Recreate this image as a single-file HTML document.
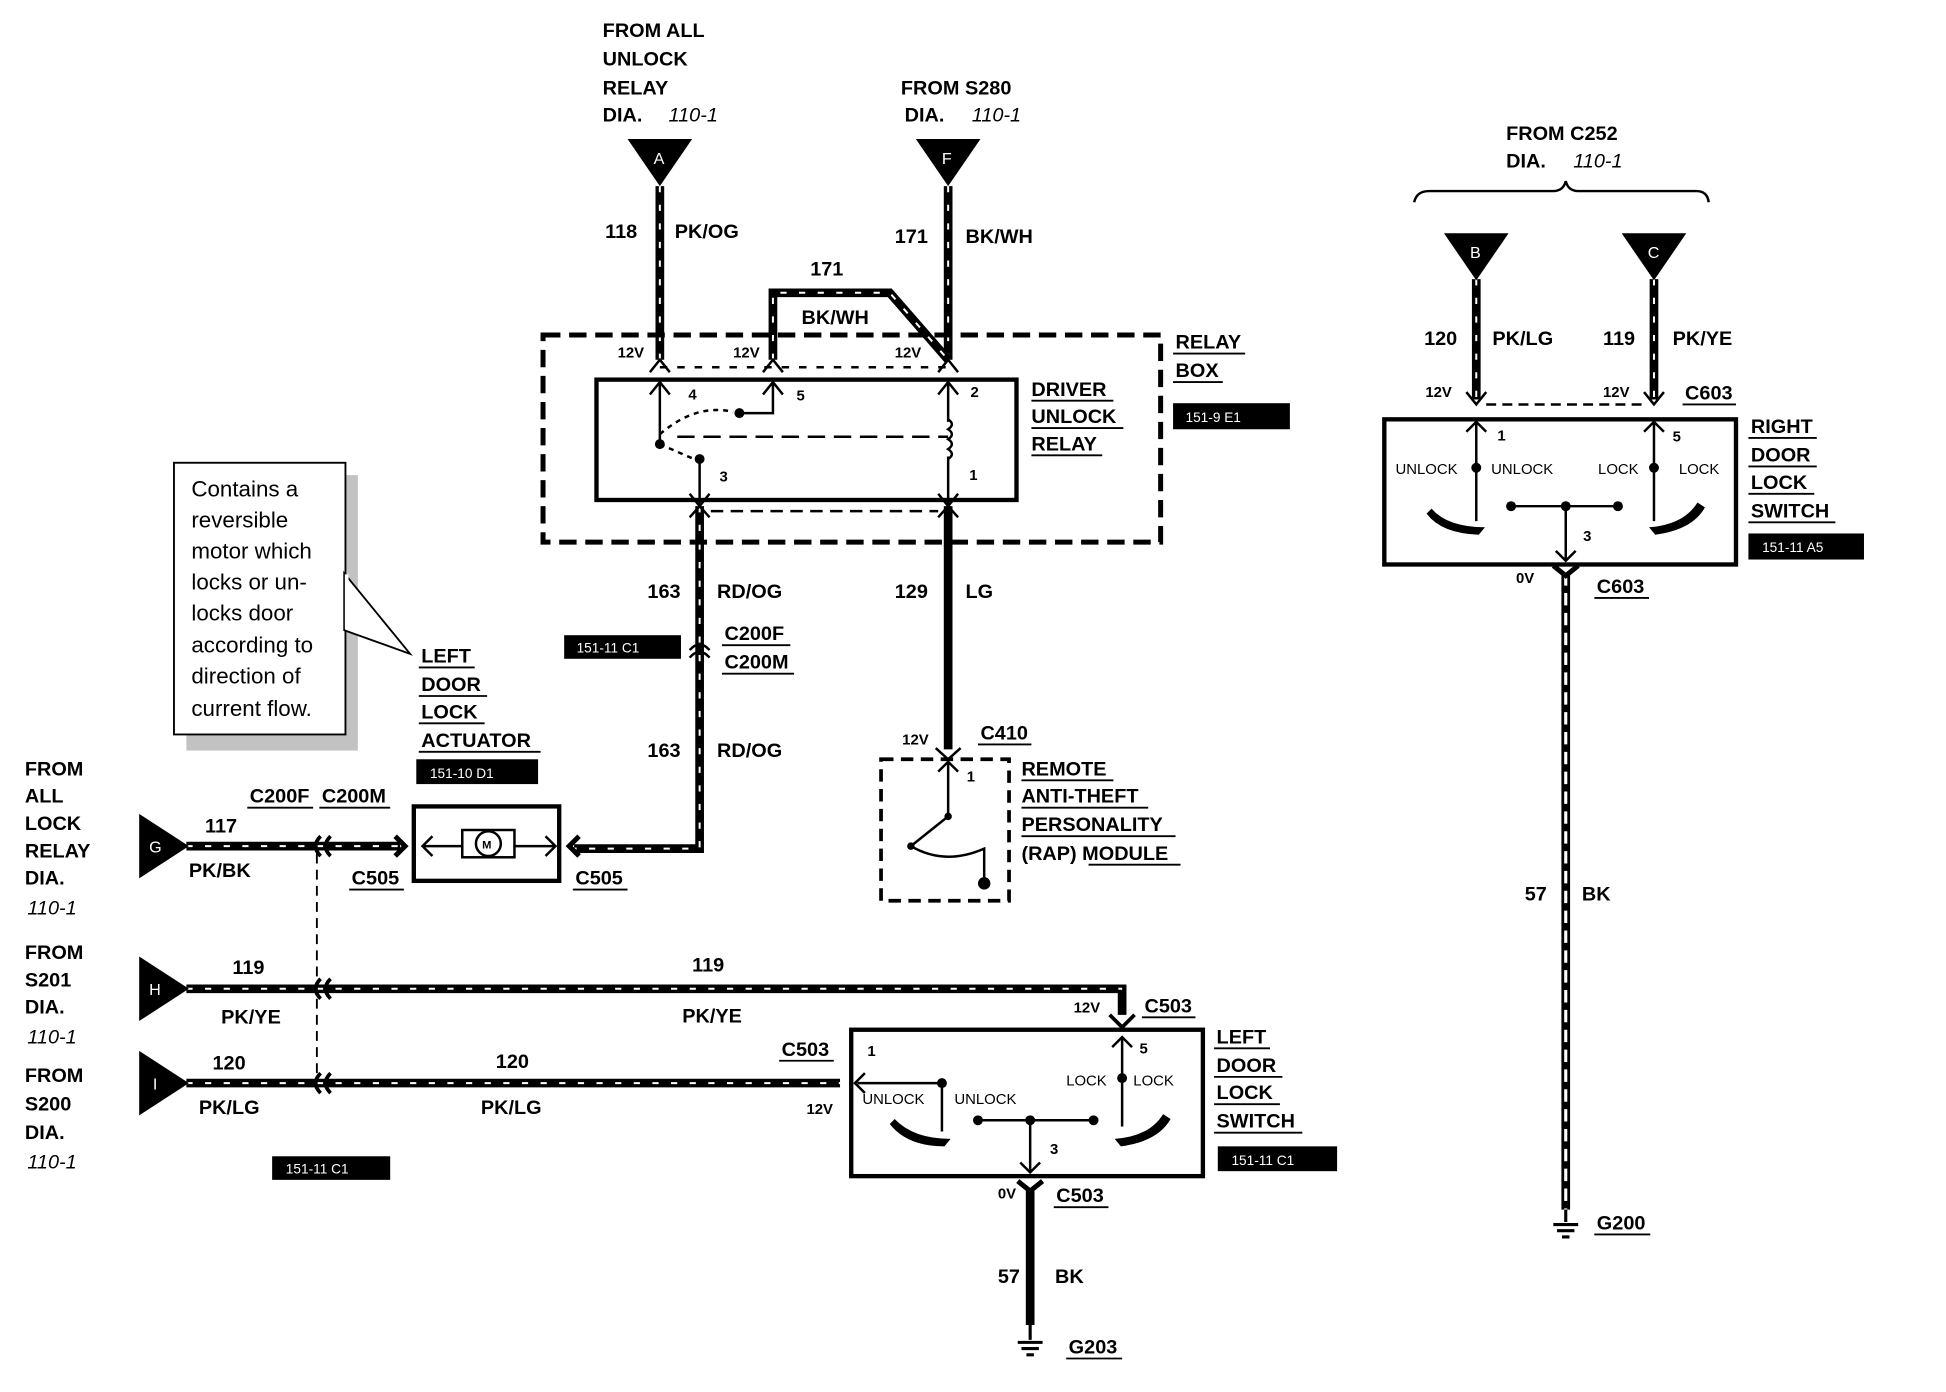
<!DOCTYPE html>
<html><head><meta charset="utf-8"><style>
html,body{margin:0;padding:0;background:#fff;}
svg{display:block}
text{font-family:"Liberation Sans",Arial,sans-serif;font-weight:bold;font-size:16px;fill:#000}
.s{font-size:12px}
.n{font-weight:normal;font-size:18px}
.i{font-style:italic;font-weight:normal}
.wh{fill:#fff;font-size:11px;font-weight:normal}
.w{stroke:#000;stroke-width:7;fill:none}
.d{stroke:#fff;stroke-width:1.6;stroke-dasharray:5 10;fill:none}
.t{stroke:#000;stroke-width:2;fill:none}
.b{stroke:#000;stroke-width:3.5;fill:none}
.u{stroke:#000;stroke-width:1.5}
</style></head><body>
<svg width="1946" height="1392" viewBox="0 0 1566 1122" preserveAspectRatio="none" xmlns="http://www.w3.org/2000/svg">
<g>
<path class="w" d="M531 150V290"/><path class="d" d="M531 150V290"/>
<path class="w" d="M763 150V290"/><path class="d" d="M763 150V290"/>
<path class="w" d="M622 290V236H716L763 290"/><path class="d" d="M622 290V236H716L763 290"/>
<path class="w" d="M563 408V684H462"/><path class="d" d="M563 408V684H462"/>
<path class="w" d="M763 408V604"/>
<path class="w" d="M150 682H322"/><path class="d" d="M150 682H322"/>
<path class="w" d="M150 797H903V818"/><path class="d" d="M150 797H903"/>
<path class="w" d="M150 873H676"/><path class="d" d="M150 873H676"/>
<path class="w" d="M829 958V1068"/>
<path class="w" d="M1188 225V322"/><path class="d" d="M1188 225V322"/>
<path class="w" d="M1331 225V322"/><path class="d" d="M1331 225V322"/>
<path class="w" d="M1260 462V975"/><path class="d" d="M1260 462V975" style="stroke-width:2.5;stroke-dasharray:10 6"/>
</g>
<polygon points="505,112 557,112 531,150"/><text x="526" y="132" class="wh" style="font-size:13px">A</text>
<polygon points="737,112 789,112 763,150"/><text x="758" y="132" class="wh" style="font-size:13px">F</text>
<polygon points="1162,188 1214,188 1188,226"/><text x="1183" y="208" class="wh" style="font-size:13px">B</text>
<polygon points="1305,188 1357,188 1331,226"/><text x="1326" y="208" class="wh" style="font-size:13px">C</text>
<polygon points="112,656 112,708 152,682"/><text x="120" y="687" class="wh" style="font-size:13px">G</text>
<polygon points="112,771 112,823 152,797"/><text x="120" y="802" class="wh" style="font-size:13px">H</text>
<polygon points="112,847 112,899 152,873"/><text x="123" y="878" class="wh" style="font-size:13px">I</text>
<text x="485" y="30">FROM ALL</text><text x="485" y="53">UNLOCK</text><text x="485" y="76">RELAY</text>
<text x="485" y="98">DIA.</text><text x="538" y="98" class="i">110-1</text>
<text x="725" y="76">FROM S280</text><text x="728" y="98">DIA.</text><text x="782" y="98" class="i">110-1</text>
<text x="487" y="192">118</text><text x="543" y="192">PK/OG</text>
<text x="720" y="196">171</text><text x="777" y="196">BK/WH</text>
<text x="652" y="222">171</text><text x="645" y="261">BK/WH</text>
<rect x="437" y="270" width="497" height="167" fill="none" stroke="#000" stroke-width="4" stroke-dasharray="14 7"/>
<rect x="480" y="306" width="338" height="97" fill="none" stroke="#000" stroke-width="3.5"/>
<text x="497" y="288" class="s">12V</text><text x="590" y="288" class="s">12V</text><text x="720" y="288" class="s">12V</text>
<path class="t" d="M523 300L531 290L539 300M614 300L622 290L630 300M755 300L763 290L771 300"/>
<path class="t" d="M531 296H763" stroke-dasharray="6 8"/>
<path class="t" d="M523 318L531 308L539 318M531 308V358M614 318L622 308L630 318M622 308V333H595M755 318L763 308L771 318M763 308V340M555 398L563 408L571 398M563 370V408M755 398L763 408L771 398M763 368V408"/>
<path class="t" d="M531 358L563 372M531 350Q560 325 590 332" stroke-dasharray="4 4"/>
<path class="t" d="M763 338q6 4 0 8q6 4 0 8q6 4 0 8q6 4 0 8"/>
<path class="t" d="M545 352H763" stroke-dasharray="14 7"/>
<circle cx="531" cy="358" r="4"/><circle cx="595" cy="333" r="4"/><circle cx="563" cy="370" r="4"/>
<text x="554" y="322" class="s">4</text><text x="641" y="323" class="s">5</text><text x="579" y="388" class="s">3</text><text x="781" y="320" class="s">2</text><text x="780" y="387" class="s">1</text>
<path class="t" d="M555 417L563 408L571 417M755 417L763 408L771 417"/>
<path class="t" d="M572 412H755" stroke-dasharray="10 6"/>
<text x="830" y="319">DRIVER</text><text x="830" y="341">UNLOCK</text><text x="830" y="363">RELAY</text>
<path class="u" d="M830 323H896M830 345H904M830 367H887"/>
<text x="946" y="281">RELAY</text><text x="946" y="304">BOX</text><path class="u" d="M944 285H1002M944 308H984"/>
<rect x="944" y="325" width="94" height="21"/><text x="954" y="340" class="wh">151-9 E1</text>
<text x="521" y="482">163</text><text x="577" y="482">RD/OG</text>
<text x="720" y="482">129</text><text x="777" y="482">LG</text>
<rect x="454" y="512" width="94" height="19"/><text x="464" y="526" class="wh">151-11 C1</text>
<path class="t" d="M555 524Q563 515 571 524M555 530Q563 521 571 530"/>
<text x="583" y="516">C200F</text><text x="583" y="539">C200M</text><path class="u" d="M581 520H636M581 543H639"/>
<text x="521" y="610">163</text><text x="577" y="610">RD/OG</text>
<text x="726" y="600" class="s">12V</text><text x="789" y="596">C410</text><path class="u" d="M787 600H830"/>
<path class="t" d="M753 603L763 612L773 603"/>
<rect x="709" y="612" width="103" height="114" fill="none" stroke="#000" stroke-width="3" stroke-dasharray="10 6"/>
<path class="t" d="M755 622L763 614L771 622M763 614V658L733 682Q760 698 792 684V712"/>
<circle cx="763" cy="658" r="3"/><circle cx="733" cy="682" r="3"/><circle cx="792" cy="712" r="5"/>
<text x="778" y="630" class="s">1</text>
<text x="822" y="625">REMOTE</text><text x="822" y="647">ANTI-THEFT</text><text x="822" y="670">PERSONALITY</text><text x="822" y="693">(RAP) MODULE</text>
<path class="u" d="M822 629H896M822 651H924M822 674H946M876 697H950"/>
<rect x="150" y="383" width="138" height="222" fill="#999" opacity="0.6"/>
<rect x="140" y="373" width="138" height="219" fill="#fff" stroke="#000" stroke-width="1.5"/>
<polygon points="277,462 330,527 277,508" fill="#fff" stroke="#000" stroke-width="1.5"/>
<path d="M279 463V507" stroke="#fff" stroke-width="3"/>
<text x="154" y="400" class="n">Contains a</text><text x="154" y="425" class="n">reversible</text><text x="154" y="450" class="n">motor which</text><text x="154" y="475" class="n">locks or un-</text><text x="154" y="500" class="n">locks door</text><text x="154" y="526" class="n">according to</text><text x="154" y="551" class="n">direction of</text><text x="154" y="577" class="n">current flow.</text>
<text x="339" y="534">LEFT</text><text x="339" y="557">DOOR</text><text x="339" y="579">LOCK</text><text x="339" y="602">ACTUATOR</text>
<path class="u" d="M337 538H382M337 561H392M337 583H390M337 606H435"/>
<rect x="335" y="612" width="98" height="20"/><text x="346" y="627" class="wh">151-10 D1</text>
<rect x="333" y="650" width="117" height="60" fill="none" stroke="#000" stroke-width="3.5"/>
<path class="t" d="M340 682H447M348 674L340 682L348 690M439 674L447 682L439 690"/>
<rect x="372" y="669" width="42" height="22" fill="#fff" stroke="#000" stroke-width="2"/>
<circle cx="393" cy="680" r="10" fill="#fff" stroke="#000" stroke-width="2"/><text x="388" y="684" class="s" style="font-size:9px">M</text>
<path class="t" d="M318 674L326 682L318 690M466 674L458 682L466 690" style="stroke-width:4"/>
<path class="t" d="M258 674Q250 682 258 690M266 674Q258 682 266 690" style="stroke-width:3"/>
<path class="t" d="M258 789Q250 797 258 805M266 789Q258 797 266 805M258 865Q250 873 258 881M266 865Q258 873 266 881" style="stroke-width:3"/>
<path d="M255 688V870" stroke="#000" stroke-width="1.5" stroke-dasharray="8 5"/>
<text x="165" y="671">117</text><text x="152" y="707">PK/BK</text>
<text x="201" y="647">C200F</text><text x="259" y="647">C200M</text><path class="u" d="M199 651H252M257 651H314"/>
<text x="283" y="713">C505</text><text x="463" y="713">C505</text><path class="u" d="M281 717H325M461 717H505"/>
<text x="20" y="625">FROM</text><text x="20" y="647">ALL</text><text x="20" y="669">LOCK</text><text x="20" y="691">RELAY</text><text x="20" y="713">DIA.</text><text x="22" y="737" class="i">110-1</text>
<text x="187" y="785">119</text><text x="178" y="825">PK/YE</text><text x="557" y="783">119</text><text x="549" y="824">PK/YE</text>
<text x="20" y="773">FROM</text><text x="20" y="795">S201</text><text x="20" y="817">DIA.</text><text x="22" y="841" class="i">110-1</text>
<text x="864" y="816" class="s">12V</text><text x="921" y="816">C503</text><path class="u" d="M919 820H962"/>
<path class="t" d="M893 818L903 828L913 818" style="stroke-width:3"/>
<text x="171" y="862">120</text><text x="160" y="898">PK/LG</text><text x="399" y="861">120</text><text x="387" y="898">PK/LG</text>
<text x="629" y="851">C503</text><path class="u" d="M627 855H671"/><text x="649" y="898" class="s">12V</text>
<text x="20" y="872">FROM</text><text x="20" y="895">S200</text><text x="20" y="918">DIA.</text><text x="22" y="942" class="i">110-1</text>
<rect x="219" y="932" width="95" height="19"/><text x="230" y="946" class="wh">151-11 C1</text>
<rect x="685" y="830" width="283" height="118" fill="none" stroke="#000" stroke-width="3.5"/>
<path class="t" d="M690 873H758V912M696 865L688 873L696 881M903 836V908M895 844L903 836L911 844M787 903H880M829 903V945M821 937L829 945L837 937"/>
<circle cx="758" cy="873" r="4"/><circle cx="903" cy="869" r="4"/><circle cx="787" cy="903" r="4"/><circle cx="829" cy="903" r="4"/><circle cx="880" cy="903" r="4"/>
<path d="M720 902Q735 918 765 918L760 924Q730 924 716 906Z"/><path d="M936 898Q925 916 897 918L902 924Q932 920 942 902Z"/>
<text x="698" y="851" class="s">1</text><text x="917" y="849" class="s">5</text><text x="845" y="930" class="s">3</text>
<text x="694" y="890" class="s" style="font-weight:normal">UNLOCK</text><text x="768" y="890" class="s" style="font-weight:normal">UNLOCK</text>
<text x="858" y="875" class="s" style="font-weight:normal">LOCK</text><text x="912" y="875" class="s" style="font-weight:normal">LOCK</text>
<text x="979" y="841">LEFT</text><text x="979" y="864">DOOR</text><text x="979" y="886">LOCK</text><text x="979" y="909">SWITCH</text>
<path class="u" d="M977 845H1022M977 868H1032M977 890H1030M977 913H1048"/>
<rect x="980" y="924" width="96" height="20"/><text x="991" y="939" class="wh">151-11 C1</text>
<path class="t" d="M819 952L829 960L839 952" style="stroke-width:4"/>
<text x="803" y="966" class="s">0V</text><text x="850" y="969">C503</text><path class="u" d="M848 973H892"/>
<text x="803" y="1034">57</text><text x="849" y="1034">BK</text>
<path class="t" d="M829 1068V1080M819 1082H839M822 1087H836M826 1092H832" style="stroke-width:2.5"/>
<text x="860" y="1091">G203</text><path class="u" d="M858 1095H903"/>
<text x="1212" y="113">FROM C252</text><text x="1212" y="135">DIA.</text><text x="1266" y="135" class="i">110-1</text>
<path class="t" d="M1138 163Q1140 154 1150 154H1250Q1258 154 1260 146Q1262 154 1270 154H1365Q1374 154 1375 163"/>
<text x="1146" y="278">120</text><text x="1201" y="278">PK/LG</text><text x="1290" y="278">119</text><text x="1346" y="278">PK/YE</text>
<text x="1147" y="320" class="s">12V</text><text x="1290" y="320" class="s">12V</text><text x="1356" y="322">C603</text><path class="u" d="M1354 326H1397"/>
<path class="t" d="M1180 316L1188 326L1196 316M1323 316L1331 326L1339 316"/>
<path class="t" d="M1196 326H1323" stroke-dasharray="8 5"/>
<rect x="1114" y="338" width="283" height="117" fill="none" stroke="#000" stroke-width="3.5"/>
<path class="t" d="M1188 340V420M1180 348L1188 340L1196 348M1331 340V420M1323 348L1331 340L1339 348M1216 408H1302M1260 408V452M1252 444L1260 452L1268 444"/>
<circle cx="1188" cy="377" r="4"/><circle cx="1331" cy="377" r="4"/><circle cx="1216" cy="408" r="4"/><circle cx="1260" cy="408" r="4"/><circle cx="1302" cy="408" r="4"/>
<path d="M1152 410Q1165 425 1195 425L1190 431Q1160 430 1148 414Z"/><path d="M1366 405Q1355 423 1327 425L1332 431Q1362 427 1372 409Z"/>
<text x="1205" y="355" class="s">1</text><text x="1346" y="356" class="s">5</text><text x="1274" y="436" class="s">3</text>
<text x="1123" y="382" class="s" style="font-weight:normal">UNLOCK</text><text x="1200" y="382" class="s" style="font-weight:normal">UNLOCK</text>
<text x="1286" y="382" class="s" style="font-weight:normal">LOCK</text><text x="1351" y="382" class="s" style="font-weight:normal">LOCK</text>
<text x="1409" y="349">RIGHT</text><text x="1409" y="372">DOOR</text><text x="1409" y="394">LOCK</text><text x="1409" y="417">SWITCH</text>
<path class="u" d="M1407 353H1462M1407 376H1462M1407 398H1460M1407 421H1477"/>
<rect x="1407" y="430" width="93" height="21"/><text x="1418" y="445" class="wh">151-11 A5</text>
<path class="t" d="M1250 456L1260 464L1270 456" style="stroke-width:4"/>
<text x="1220" y="470" class="s">0V</text><text x="1285" y="478">C603</text><path class="u" d="M1283 482H1327"/>
<text x="1227" y="726">57</text><text x="1273" y="726">BK</text>
<path class="t" d="M1260 975V985M1250 987H1270M1253 992H1267M1257 997H1263" style="stroke-width:2.5"/>
<text x="1285" y="991">G200</text><path class="u" d="M1283 995H1328"/>
</svg>
</body></html>
